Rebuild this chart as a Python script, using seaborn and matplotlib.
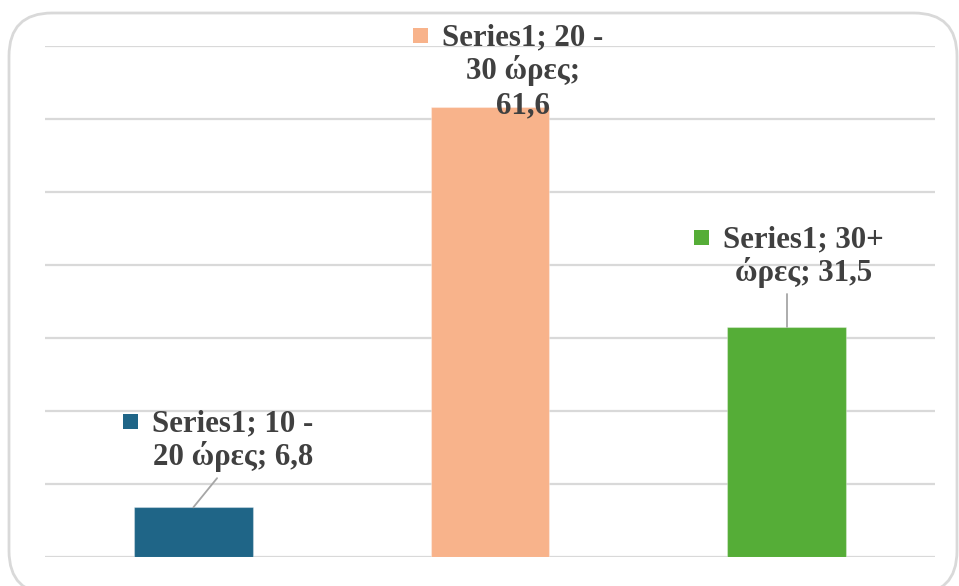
import matplotlib
matplotlib.use("Agg")
import matplotlib.pyplot as plt
from matplotlib.patches import FancyBboxPatch
import seaborn as sns
import pandas as pd

# Data
series_name = "Series1"
categories = ["10 - 20 ώρες", "20 - 30 ώρες", "30+ ώρες"]
values = [6.8, 61.6, 31.5]
label_lines = [
    ["Series1; 10 -", "20 ώρες; 6,8"],
    ["Series1; 20 -", "30 ώρες;", "61,6"],
    ["Series1; 30+", "ώρες; 31,5"],
]
colors = ["#1F6587", "#F8B38B", "#55AD37"]

# Label placement: horizontal offset from the bar and baseline of the last line
label_dx = [0.134, 0.111, 0.058]
label_base = [12.6, 60.8, 37.8]
leader_end = [(0.08, 10.8), None, (0.0, 36.0)]

sns.set_theme(style="white")
plt.rcParams["font.family"] = ["Liberation Serif", "DejaVu Serif"]

fig = plt.figure(figsize=(9.59, 5.86), dpi=100)
W, H = 959, 586
ax = fig.add_axes([45 / W, 29 / H, 890 / W, 511 / H])

df = pd.DataFrame({"category": categories, "value": values})
sns.barplot(data=df, x="category", y="value", hue="category",
            palette=colors, width=0.4, legend=False, ax=ax,
            saturation=1, edgecolor="#ffffff55", linewidth=0.8, zorder=3)

ax.set_xlim(-0.5, 2.5)
ax.set_ylim(0, 70)
ax.set_yticks(range(0, 71, 10))
ax.yaxis.grid(True, color="#d9d9d9", linewidth=1.6, zorder=0)
ax.set_axisbelow(True)
ax.set_xticks([])
ax.tick_params(left=False, labelleft=False)
ax.set_xlabel("")
ax.set_ylabel("")
for s in ax.spines.values():
    s.set_visible(False)
ax.patch.set_alpha(0)

# Rounded outer frame
frame = FancyBboxPatch((9 / W, -8 / H), 948 / W, 581 / H,
                       boxstyle="round,pad=0,rounding_size=0.045",
                       transform=fig.transFigure, facecolor="none",
                       edgecolor="#d9d9d9", linewidth=2, zorder=0,
                       mutation_aspect=W / H)
fig.patches.append(frame)

text_kw = dict(fontsize=22.2, fontweight="bold", color="#404040")
line_pitch_pt = 34 * 0.72      # 34 px between baselines
key_gap_px = 15
key_px = 15

fig.canvas.draw()
renderer = fig.canvas.get_renderer()
inv = ax.transData.inverted()

for i, (lines, dx, yb, col, le) in enumerate(zip(label_lines, label_dx,
                                                  label_base, colors,
                                                  leader_end)):
    if le is not None:
        ax.plot([i, le[0] + i], [values[i], le[1]], color="#a6a6a6",
                linewidth=1.3, zorder=4)
    n = len(lines)
    first = None
    for k, line in enumerate(lines):
        t = ax.annotate(line, xy=(i + dx, yb),
                        xytext=(0, (n - 1 - k) * line_pitch_pt),
                        textcoords="offset points", ha="center",
                        va="baseline", zorder=5, annotation_clip=False,
                        **text_kw)
        if k == 0:
            first = t
    bb = first.get_window_extent(renderer)
    x_anchor, y_anchor = ax.transData.transform((i + dx, yb))
    base1 = y_anchor + (n - 1) * 34
    kx = bb.x0 - key_gap_px - key_px / 2
    ky = base1 + 10.5
    dxk, dyk = inv.transform((kx, ky))
    ax.plot([dxk], [dyk], marker="s", markersize=key_px * 0.72,
            markeredgewidth=0, color=col, linestyle="none", zorder=5,
            clip_on=False)

fig.savefig("out.png", dpi=100)
